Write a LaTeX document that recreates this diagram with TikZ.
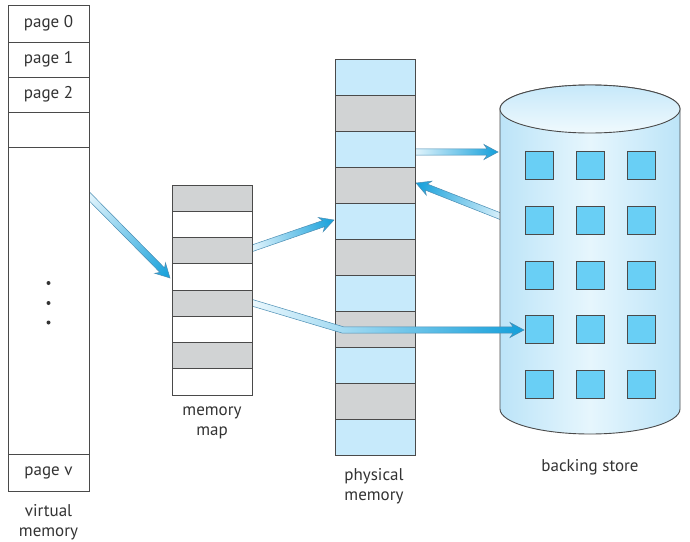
\documentclass[tikz,border=0pt]{standalone}
\usepackage{fontspec}
\setmainfont{PT Sans}
\usetikzlibrary{calc}
\definecolor{rowgray}{HTML}{D1D3D4}
\definecolor{pmblue}{HTML}{C7EAFB}
\definecolor{sqblue}{HTML}{69CFF5}
\definecolor{cylside}{HTML}{BCE4F8}
\definecolor{cylmid}{HTML}{E6F6FD}
\definecolor{arrowblue}{HTML}{139FDA}
\definecolor{arrowpale}{HTML}{EEF9FE}
\definecolor{arrowline}{HTML}{4A8DB3}
\definecolor{outline}{HTML}{4A4A4A}
\definecolor{textcol}{HTML}{333333}
\tikzset{
  cell/.style={draw=outline, line width=0.9pt, inner sep=0pt, minimum width=80pt, anchor=center},
  vmcell/.style={cell, fill=white, minimum width=81pt, text=textcol, font=\fontsize{17}{20}\selectfont},
  sqbox/.style={draw=outline, line width=0.8pt, fill=sqblue, inner sep=0pt, minimum width=28pt, minimum height=28pt},
  lbl/.style={align=center, inner sep=0pt, text=textcol, font=\fontsize{17}{19.5}\selectfont},
  fatarrow/.style={draw=arrowline, line width=0.5pt, left color=arrowpale, right color=arrowblue},
}
\newcommand\fatarrowdraw[2]{%
  \path (#1); \pgfgetlastxy{\fax}{\fay}%
  \path (#2); \pgfgetlastxy{\fbx}{\fby}%
  \pgfmathsetmacro\faang{atan2(\fby-\fay,\fbx-\fax)}%
  \pgfmathsetmacro\falen{veclen(\fbx-\fax,\fby-\fay)}%
  \begin{scope}[transform canvas={shift={(\fax,\fay)},rotate=\faang}]
    \shade[fatarrow] (0pt,-3.2pt) -- (\falen pt-11pt,-3.2pt) -- (\falen pt-14pt,-7.5pt) -- (\falen pt,0pt) -- (\falen pt-14pt,7.5pt) -- (\falen pt-11pt,3.2pt) -- (0pt,3.2pt) -- cycle;
  \end{scope}}
\begin{document}
\begin{tikzpicture}[x=1pt,y=-1pt]
\useasboundingbox (0,0) rectangle (690,541);
\fill[white] (0,0) rectangle (690,541);

% arrow end points
\coordinate (a1s) at (84,191);
\coordinate (a1e) at (170,278);
\coordinate (a2s) at (248,249.7);
\coordinate (a2e) at (334,220);
\coordinate (a4s) at (410,152);
\coordinate (a4e) at (498,152);
\coordinate (a5s) at (509.3,219.7);
\coordinate (a5e) at (416,183);
\coordinate (a3s) at (248.2,301.6);
\coordinate (a3b) at (343.1,330);
\coordinate (a3e) at (524,330);

% arrows drawn beneath boxes
\fatarrowdraw{a4s}{a4e}
\fatarrowdraw{a5s}{a5e}

% physical memory
\foreach \i in {1,...,11} {
  \pgfmathtruncatemacro\odd{mod(\i,2)}
  \ifnum\odd=1 \def\rc{pmblue}\else\def\rc{rowgray}\fi
  \node[cell, fill=\rc, minimum height=36pt] (pm\i) at (375,{77+36*(\i-1)}) {};
}

% backing store cylinder
\shade[left color=cylside, right color=cylside, middle color=cylmid, draw=outline, line width=0.9pt]
  (500,109) -- (500,409) arc[start angle=180, end angle=0, x radius=90, y radius=25]
  -- (680,109) arc[start angle=0, end angle=-180, x radius=90, y radius=24] -- cycle;
\shade[top color=cylside!85, bottom color=cylmid!60!white, draw=outline, line width=0.9pt]
  (590,109) ellipse [x radius=90, y radius=24];
\foreach \r/\yy in {1/165.5,2/220,3/275,4/329.5,5/384} {
  \foreach \c/\xx in {1/539,2/590,3/641} {
    \node[sqbox] (sq\r\c) at (\xx,\yy) {};
  }
}

% arrows over boxes
\fatarrowdraw{a1s}{a1e}
\fatarrowdraw{a2s}{a2e}
\shade[fatarrow]
  ($(a3s)+(0.9,-3.1)$) -- ($(a3b)+(0.5,-3.2)$) -- ($(a3e)+(-11,-3.2)$) -- ($(a3e)+(-14,-7.5)$) -- (a3e)
  -- ($(a3e)+(-14,7.5)$) -- ($(a3e)+(-11,3.2)$) -- ($(a3b)+(-0.5,3.2)$) -- ($(a3s)+(-0.9,3.1)$) -- cycle;

% virtual memory
\node[vmcell, minimum height=37pt] (vm0) at (48.5,23.5) {page 0};
\node[vmcell, minimum height=35pt] (vm1) at (48.5,59.5) {page 1};
\node[vmcell, minimum height=35pt] (vm2) at (48.5,94.5) {page 2};
\node[vmcell, minimum height=35pt] (vm3) at (48.5,129.5) {};
\node[vmcell, minimum height=307pt] (vmmid) at (48.5,300.5) {};
\node[vmcell, minimum height=37pt] (vmv) at (48.5,472.5) {page v};
\fill[textcol] (48.5,283) circle (2pt) (48.5,303) circle (2pt) (48.5,322.5) circle (2pt);

% memory map
\foreach \i in {1,...,8} {
  \pgfmathtruncatemacro\odd{mod(\i,2)}
  \ifnum\odd=1 \def\rc{rowgray}\else\def\rc{white}\fi
  \node[cell, fill=\rc, minimum height=26.25pt] (mm\i) at (212,{198.125+26.25*(\i-1)}) {};
}

% labels
\node[lbl] (lvm) at (48.5,522) {virtual\\memory};
\node[lbl] (lmm) at (212,423) {memory\\map};
\node[lbl] (lpm) at (374,486) {physical\\memory};
\node[lbl] (lbs) at (590,467) {backing store};
\end{tikzpicture}
\end{document}
